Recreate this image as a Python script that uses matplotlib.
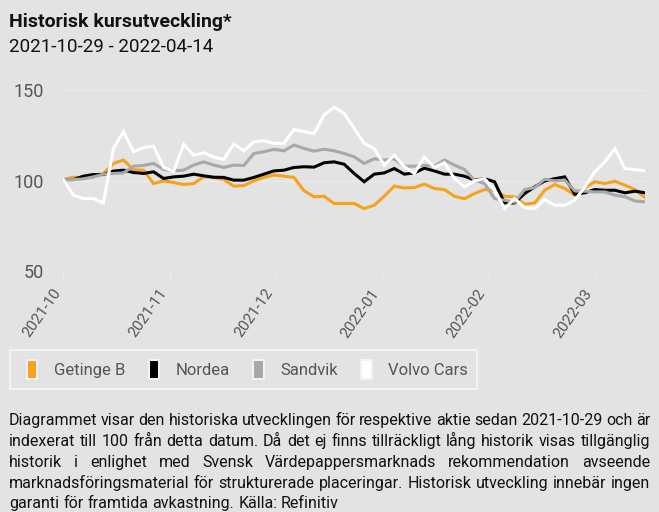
import matplotlib
matplotlib.use('Agg')
import matplotlib.pyplot as plt
from matplotlib.patches import Patch, Rectangle
from matplotlib import font_manager

W, H = 659, 512
BG = '#e3e3e3'

names = [f.name for f in font_manager.fontManager.ttflist]
FONT = 'Liberation Sans Narrow' if 'Liberation Sans Narrow' in names else 'Roboto'
plt.rcParams['font.family'] = [FONT, 'DejaVu Sans']

# indexed price development, ~every second trading day from 2021-10-29
getinge = [100.5, 101.8, 101.5, 102.0, 103.9, 109.4, 111.3, 106.0, 105.7, 98.3,
           99.8, 98.9, 97.8, 98.3, 102.0, 101.7, 100.5, 96.9, 97.2, 99.8,
           101.7, 103.0, 102.4, 101.7, 94.3, 91.0, 91.3, 87.3, 87.3, 87.3,
           84.5, 86.3, 91.3, 96.9, 95.9, 96.1, 98.0, 95.6, 95.0, 91.3,
           89.9, 92.8, 95.0, 94.6, 91.3, 91.0, 86.9, 87.6, 94.6, 97.8,
           95.6, 91.9, 96.1, 99.3, 98.3, 99.6, 97.4, 95.0, 90.6]
nordea = [100.5, 100.5, 102.4, 103.3, 103.3, 105.2, 105.7, 104.4, 103.9, 104.8,
          101.1, 102.0, 102.4, 103.5, 102.6, 101.8, 101.7, 100.2, 100.2, 101.7,
          103.5, 105.3, 105.7, 107.2, 107.6, 107.4, 109.8, 110.3, 109.0, 103.9,
          99.3, 103.5, 104.2, 106.6, 103.5, 104.2, 106.8, 105.3, 103.5, 103.5,
          102.4, 100.2, 101.0, 99.3, 87.6, 87.6, 92.8, 96.5, 99.8, 101.0,
          102.0, 92.4, 93.2, 95.0, 94.6, 94.6, 93.2, 94.1, 93.2]
sandvik = [100.5, 100.5, 100.9, 102.0, 103.5, 103.9, 104.2, 107.9, 108.3, 109.4,
           106.1, 105.4, 105.7, 108.5, 110.3, 108.5, 107.2, 108.5, 108.3, 114.9,
           115.9, 117.2, 116.4, 119.6, 117.7, 116.2, 117.3, 116.4, 114.9, 113.1,
           109.4, 112.0, 111.3, 112.0, 107.9, 107.9, 108.3, 107.9, 111.3, 108.5,
           106.1, 100.2, 98.3, 90.0, 89.1, 88.0, 95.0, 96.1, 100.7, 99.8,
           100.2, 94.3, 94.1, 93.7, 93.7, 91.9, 91.0, 88.7, 88.2]
volvo = [100.5, 91.9, 90.0, 90.0, 87.6, 117.7, 127.0, 115.9, 118.2, 119.0,
         107.2, 105.0, 120.0, 114.0, 115.3, 113.0, 111.6, 120.1, 116.4, 121.4,
         122.0, 120.5, 120.5, 128.2, 127.0, 126.0, 136.2, 140.5, 137.1, 128.8,
         120.5, 117.7, 108.5, 114.0, 107.6, 103.9, 113.0, 107.2, 109.8, 101.1,
         96.5, 99.8, 101.1, 94.6, 84.5, 90.0, 85.0, 84.5, 89.5, 86.3,
         86.3, 89.1, 96.5, 104.8, 110.3, 117.7, 106.6, 106.0, 105.4]

series = ['Getinge B', 'Nordea', 'Sandvik', 'Volvo Cars']
colors = ['#f7a21b', '#000000', '#a8a8a8', '#ffffff']
values = [getinge, nordea, sandvik, volvo]

tick_labels = ['2021-10', '2021-11', '2021-12', '2022-01', '2022-02', '2022-03']
tick_step = 10.6
yticks = [50, 100, 150]

fig = plt.figure(figsize=(W / 100, H / 100), dpi=100, facecolor=BG)

def fx(x):
    return x / W

def fy(y):
    return 1 - y / H

ax = fig.add_axes([fx(63.3), fy(271), fx(645) - fx(63.3), (271 - 90) / H])
ax.set_facecolor(BG)
n = len(getinge)
xs = list(range(n))
order = [2, 0, 1, 3]
for i in order:
    ax.plot(xs, values[i], color=colors[i], lw=2.2, solid_joinstyle='miter', zorder=3 + i)

ax.set_xlim(0, n - 1)
ax.set_ylim(50, 150)
for s in ax.spines.values():
    s.set_visible(False)
ax.set_yticks(yticks)
ax.set_yticklabels([str(v) for v in yticks])
ax.tick_params(axis='y', length=0, pad=14, labelsize=13, labelcolor='#555555')
ax.set_xticks([k * tick_step for k in range(len(tick_labels))])
ax.set_xticklabels(tick_labels, rotation=55, ha='right', va='top')
ax.tick_params(axis='x', length=7, width=1, color='#ebebeb', pad=4,
               labelsize=11, labelcolor='#555555')
ax.grid(axis='y', color='#ebebeb', lw=1)
ax.set_axisbelow(True)

fig.text(fx(9), fy(27), 'Historisk kursutveckling*', fontsize=14, fontweight='bold',
         color='#111111', va='baseline')
fig.text(fx(9), fy(52), '2021-10-29 - 2022-04-14', fontsize=13.5,
         color='#111111', va='baseline')

# legend frame drawn separately so the entries can sit where the reference has them
fig.patches.append(Rectangle((fx(10), fy(389)), fx(477) - fx(10), (389 - 350) / H,
                             transform=fig.transFigure, fill=False,
                             ec='#f2f2f2', lw=1.5))
handles = [Patch(facecolor=c, edgecolor='#f2f2f2', lw=1.5) for c in colors]
leg = fig.legend(handles, series, loc='center left', ncol=4,
                 bbox_to_anchor=(fx(27), fy(369.5)), borderaxespad=0,
                 frameon=False, fontsize=12, labelcolor='#555555',
                 handlelength=0.62, handleheight=1.4, handletextpad=1.0,
                 columnspacing=1.4, borderpad=0)

para = [
    'Diagrammet visar den historiska utvecklingen för respektive aktie sedan 2021-10-29 och är',
    'indexerat till 100 från detta datum. Då det ej finns tillräckligt lång historik visas tillgänglig',
    'historik i enlighet med Svensk Värdepappersmarknads rekommendation avseende',
    'marknadsföringsmaterial för strukturerade placeringar. Historisk utveckling innebär ingen',
    'garanti för framtida avkastning. Källa: Refinitiv',
]
line_y = [425, 446, 467, 488, 508]
renderer = fig.canvas.get_renderer()
space = fig.text(0, 0, ' ', fontsize=11.5).get_window_extent(renderer).width
for k, (line, y) in enumerate(zip(para, line_y)):
    words = line.split(' ')
    texts = [fig.text(0, fy(y), w, fontsize=11.5, color='#111111', va='baseline')
             for w in words]
    widths = [t.get_window_extent(renderer).width for t in texts]
    if k < len(para) - 1:
        gap = (650 - 9 - sum(widths)) / (len(words) - 1)
    else:
        gap = space
    x = 9
    for t, w in zip(texts, widths):
        t.set_x(fx(x))
        x += w + gap

fig.savefig('out.png', dpi=100, facecolor=BG)
